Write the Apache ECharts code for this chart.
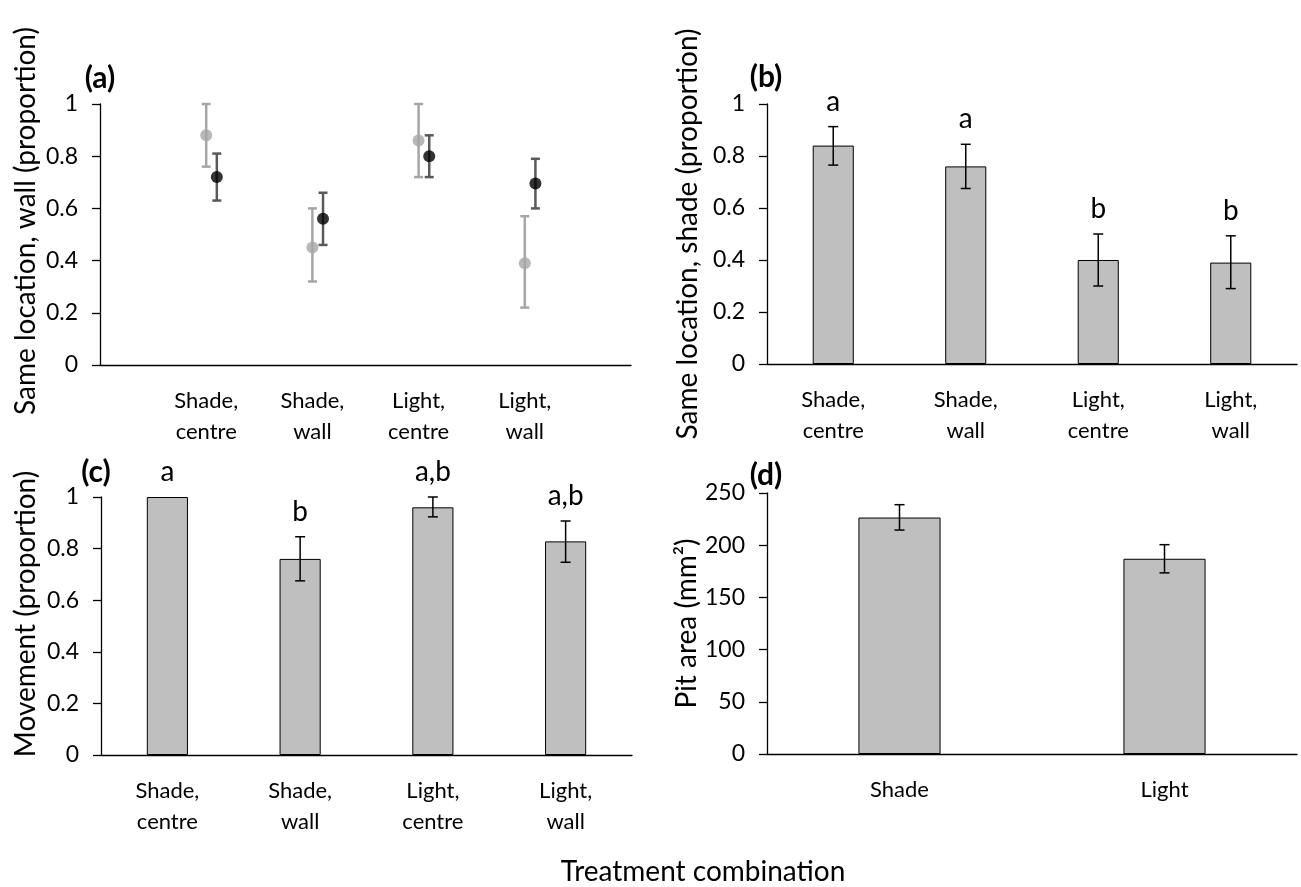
<!DOCTYPE html>
<html>
<head>
    <meta charset="utf-8" />
    <title>Treatment combination</title>
    <style type="text/css">
        * { margin: 0; padding: 0; }
        html, body { width: 100%; height: 100%; background: #fff; }
        #main { width: 1301px; height: 887px; }
    </style>
</head>
<body>
    <div id="main"></div>
    <script type="text/javascript" src="https://cdn.jsdelivr.net/npm/echarts@6/dist/echarts.min.js"></script>
    <script type="text/javascript">
        // data
        const catsFour = ['Shade,\ncentre', 'Shade,\nwall', 'Light,\ncentre', 'Light,\nwall'];
        const catsTwo = ['Shade', 'Light'];

        // (a) same location, wall
        const wallGrey = [0.88, 0.45, 0.86, 0.39];
        const wallGreyLow = [0.76, 0.32, 0.72, 0.22];
        const wallGreyHigh = [1.0, 0.60, 1.0, 0.57];
        const wallBlack = [0.72, 0.56, 0.80, 0.695];
        const wallBlackLow = [0.63, 0.46, 0.72, 0.60];
        const wallBlackHigh = [0.81, 0.66, 0.88, 0.79];

        // (b) same location, shade
        const shade = [0.84, 0.76, 0.40, 0.39];
        const shadeLow = [0.765, 0.675, 0.30, 0.29];
        const shadeHigh = [0.913, 0.845, 0.50, 0.493];
        const shadeSig = ['a', 'a', 'b', 'b'];

        // (c) movement
        const movement = [1.0, 0.76, 0.96, 0.828];
        const movementLow = [1.0, 0.675, 0.923, 0.747];
        const movementHigh = [1.0, 0.846, 1.0, 0.907];
        const movementSig = ['a', 'b', 'a,b', 'a,b'];

        // (d) pit area
        const pitArea = [226.5, 187];
        const pitLow = [214.5, 173.5];
        const pitHigh = [238.8, 200.5];

        const FONT = 'Lato';
        const GREY_OFFSET = 0;     // x shift of grey points in (a)
        const BLACK_OFFSET = 0.1;  // x shift of black points in (a)

        const chart = echarts.init(document.getElementById('main'), null, { renderer: 'canvas' });

        // error bars (+ optional letters above them)
        function errorBars(color, width, cap, letters) {
            return function (params, api) {
                const x = api.value(0);
                const lo = api.value(1);
                const hi = api.value(2);
                const top = api.coord([x, hi]);
                const bot = api.coord([x, lo]);
                const children = [];
                const st = { stroke: color, lineWidth: width };
                if (hi > lo) {
                    children.push({ type: 'line', shape: { x1: top[0], y1: top[1], x2: bot[0], y2: bot[1] }, style: st });
                    children.push({ type: 'line', shape: { x1: top[0] - cap / 2, y1: top[1], x2: top[0] + cap / 2, y2: top[1] }, style: st });
                    children.push({ type: 'line', shape: { x1: bot[0] - cap / 2, y1: bot[1], x2: bot[0] + cap / 2, y2: bot[1] }, style: st });
                }
                if (letters) {
                    children.push({
                        type: 'text',
                        style: {
                            text: letters[params.dataIndex], x: top[0], y: top[1] - 11,
                            align: 'center', verticalAlign: 'bottom',
                            fontSize: 28, fontFamily: FONT, fill: '#000'
                        }
                    });
                }
                return { type: 'group', children: children };
            };
        }

        const axisLineStyle = { show: true, lineStyle: { color: '#000', width: 1.3 } };

        function yAxisFor(grid, name, gap, max, interval, shift) {
            return {
                type: 'value', gridIndex: grid, min: 0, max: max, interval: interval,
                name: name, nameLocation: 'middle', nameGap: gap,
                nameTextStyle: { color: '#000', fontSize: 28, fontFamily: FONT, padding: [0, 0, 0, shift] },
                axisLine: axisLineStyle,
                axisTick: { show: true, inside: false, length: 8, lineStyle: { color: '#000', width: 1.3 } },
                axisLabel: { margin: 22, color: '#000', fontSize: 23, fontFamily: FONT },
                splitLine: { show: false }
            };
        }

        const xLabel = { margin: 20, lineHeight: 31, color: '#000', fontSize: 22, fontFamily: FONT };

        function catAxis(grid, cats) {
            return {
                type: 'category', gridIndex: grid, data: cats,
                axisLine: axisLineStyle, axisTick: { show: false },
                axisLabel: Object.assign({ interval: 0 }, xLabel)
            };
        }

        const option = {
            backgroundColor: '#fff',
            animation: false,
            grid: [
                { left: 100, top: 104, width: 531, height: 261 },
                { left: 767, top: 104, width: 530, height: 260 },
                { left: 101, top: 497, width: 531, height: 258 },
                { left: 767, top: 493, width: 530, height: 261 }
            ],
            xAxis: [
                {
                    type: 'value', gridIndex: 0, min: 0, max: catsFour.length + 1, interval: 1,
                    axisLine: axisLineStyle, axisTick: { show: false }, splitLine: { show: false },
                    axisLabel: Object.assign({
                        formatter: function (v) { return catsFour[v - 1] || ''; }
                    }, xLabel)
                },
                catAxis(1, catsFour),
                catAxis(2, catsFour),
                catAxis(3, catsTwo)
            ],
            yAxis: [
                yAxisFor(0, 'Same location, wall (proportion)', 60, 1, 0.2, 27),
                yAxisFor(1, 'Same location, shade (proportion)', 65, 1, 0.2, 0),
                yAxisFor(2, 'Movement (proportion)', 61, 1, 0.2, 24),
                yAxisFor(3, 'Pit area (mm\u00B2)', 63, 250, 50, 0)
            ],
            series: [
                // (a)
                {
                    type: 'custom', name: 'grey SE', xAxisIndex: 0, yAxisIndex: 0,
                    renderItem: errorBars('#A6A6A6', 2.5, 9),
                    encode: { x: 0, y: [1, 2] },
                    data: wallGrey.map((v, i) => [i + 1 + GREY_OFFSET, wallGreyLow[i], wallGreyHigh[i]])
                },
                {
                    type: 'custom', name: 'black SE', xAxisIndex: 0, yAxisIndex: 0,
                    renderItem: errorBars('#595959', 2.5, 9),
                    encode: { x: 0, y: [1, 2] },
                    data: wallBlack.map((v, i) => [i + 1 + BLACK_OFFSET, wallBlackLow[i], wallBlackHigh[i]])
                },
                {
                    type: 'scatter', name: 'grey', xAxisIndex: 0, yAxisIndex: 0,
                    symbolSize: 12, itemStyle: { color: '#A6A6A6' }, z: 3,
                    data: wallGrey.map((v, i) => [i + 1 + GREY_OFFSET, v])
                },
                {
                    type: 'scatter', name: 'black', xAxisIndex: 0, yAxisIndex: 0,
                    symbolSize: 12, itemStyle: { color: '#000' }, z: 3,
                    data: wallBlack.map((v, i) => [i + 1 + BLACK_OFFSET, v])
                },
                // (b)
                {
                    type: 'bar', xAxisIndex: 1, yAxisIndex: 1, barWidth: '31%', data: shade,
                    itemStyle: { color: '#BFBFBF', borderColor: '#000', borderWidth: 1 }
                },
                {
                    type: 'custom', xAxisIndex: 1, yAxisIndex: 1, z: 3,
                    renderItem: errorBars('#000', 1.5, 10, shadeSig),
                    encode: { x: 0, y: [1, 2] },
                    data: shade.map((v, i) => [i, shadeLow[i], shadeHigh[i]])
                },
                // (c)
                {
                    type: 'bar', xAxisIndex: 2, yAxisIndex: 2, barWidth: '31%', data: movement,
                    itemStyle: { color: '#BFBFBF', borderColor: '#000', borderWidth: 1 }
                },
                {
                    type: 'custom', xAxisIndex: 2, yAxisIndex: 2, z: 3,
                    renderItem: errorBars('#000', 1.5, 10, movementSig),
                    encode: { x: 0, y: [1, 2] },
                    data: movement.map((v, i) => [i, movementLow[i], movementHigh[i]])
                },
                // (d)
                {
                    type: 'bar', xAxisIndex: 3, yAxisIndex: 3, barWidth: '31%', data: pitArea,
                    itemStyle: { color: '#BFBFBF', borderColor: '#000', borderWidth: 1 }
                },
                {
                    type: 'custom', xAxisIndex: 3, yAxisIndex: 3, z: 3,
                    renderItem: errorBars('#000', 1.5, 10),
                    encode: { x: 0, y: [1, 2] },
                    data: pitArea.map((v, i) => [i, pitLow[i], pitHigh[i]])
                }
            ],
            graphic: [
                { type: 'text', x: 100, y: 78, style: { text: '(a)', font: 'bold 30px Lato', fill: '#000', align: 'center', verticalAlign: 'middle' } },
                { type: 'text', x: 766, y: 77, style: { text: '(b)', font: 'bold 30px Lato', fill: '#000', align: 'center', verticalAlign: 'middle' } },
                { type: 'text', x: 96, y: 472, style: { text: '(c)', font: 'bold 30px Lato', fill: '#000', align: 'center', verticalAlign: 'middle' } },
                { type: 'text', x: 766, y: 475, style: { text: '(d)', font: 'bold 30px Lato', fill: '#000', align: 'center', verticalAlign: 'middle' } },
                { type: 'text', x: 703, y: 872, style: { text: 'Treatment combination', font: '28px Lato', fill: '#000', align: 'center', verticalAlign: 'middle' } }
            ]
        };

        chart.setOption(option);
    </script>
</body>
</html>
